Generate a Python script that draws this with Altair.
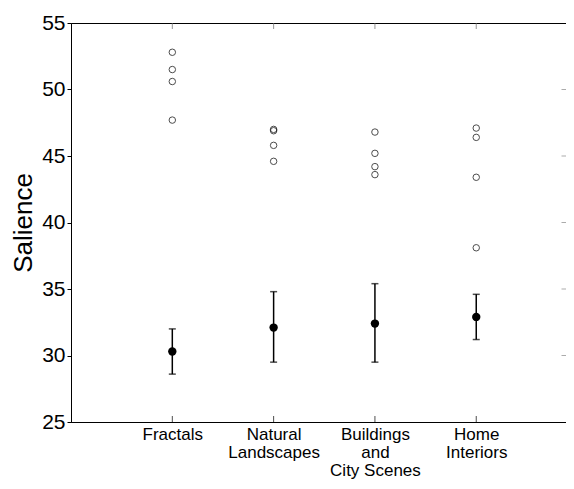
import altair as alt
import pandas as pd

categories = ["Fractals", "Natural Landscapes", "Buildings and City Scenes", "Home Interiors"]
label_lines = [["Fractals"], ["Natural", "Landscapes"], ["Buildings", "and", "City Scenes"], ["Home", "Interiors"]]
positions = [1, 2, 3, 4]

# individual (open circle) values per category
fractals_pts = [52.8, 51.5, 50.6, 47.7]
natural_pts = [47.0, 46.9, 45.8, 44.6]
buildings_pts = [46.8, 45.2, 44.2, 43.6]
home_pts = [47.1, 46.4, 43.4, 38.1]

# means with error bars
means = [30.3, 32.1, 32.4, 32.9]
err_low = [28.6, 29.5, 29.5, 31.2]
err_high = [32.0, 34.8, 35.4, 34.6]

y_ticks = [25, 30, 35, 40, 45, 50, 55]

pts_rows = []
for pos, vals in zip(positions, [fractals_pts, natural_pts, buildings_pts, home_pts]):
    for v in vals:
        pts_rows.append({"pos": pos, "value": v})
pts_df = pd.DataFrame(pts_rows)

mean_df = pd.DataFrame({"pos": positions, "cat": categories, "mean": means,
                        "lo": err_low, "hi": err_high})

ticks_df = pd.DataFrame({"pos": positions, "bottom": [25] * 4, "top": [55] * 4})
x_max = 4.886
yt_df = pd.DataFrame({"y": y_ticks[1:-1], "x": [x_max] * (len(y_ticks) - 2)})

label_expr = " : ".join(
    [f"datum.value == {p} ? {repr(l)}" for p, l in zip(positions, label_lines)]
) + " : ''"

xscale = alt.Scale(domain=[0, x_max], nice=False, zero=False)
yscale = alt.Scale(domain=[25, 55], nice=False, zero=False)

x_axis = alt.Axis(values=positions, labelExpr=label_expr, title=None, ticks=False,
                  labelFontSize=17, labelFont="Liberation Sans", labelColor="black",
                  labelPadding=4, labelLineHeight=18, labelOverlap=False, labelBound=False,
                  domainColor="black", grid=False)
y_axis = alt.Axis(values=y_ticks, title="Salience", titleFontSize=26, titleFont="Liberation Sans",
                  titleFontWeight="normal", titleColor="black", titlePadding=5,
                  labelFontSize=21, labelFont="Liberation Sans", labelColor="black",
                  tickSize=4, tickColor="black", labelPadding=2, domainColor="black", grid=False)

open_pts = alt.Chart(pts_df).mark_point(shape="circle", filled=False, color="black",
                                        size=42, strokeWidth=1).encode(
    x=alt.X("pos:Q", scale=xscale, axis=x_axis),
    y=alt.Y("value:Q", scale=yscale, axis=y_axis),
)

bars = alt.Chart(mean_df).mark_rule(color="black", strokeWidth=1.5).encode(
    x=alt.X("pos:Q", scale=xscale),
    y=alt.Y("lo:Q", scale=yscale),
    y2="hi:Q",
)
cap_lo = alt.Chart(mean_df).mark_tick(orient="horizontal", color="black", size=7,
                                       thickness=1.5).encode(
    x=alt.X("pos:Q", scale=xscale), y=alt.Y("lo:Q", scale=yscale))
cap_hi = alt.Chart(mean_df).mark_tick(orient="horizontal", color="black", size=7,
                                       thickness=1.5).encode(
    x=alt.X("pos:Q", scale=xscale), y=alt.Y("hi:Q", scale=yscale))
dots = alt.Chart(mean_df).mark_point(shape="circle", filled=True, color="black",
                                     size=70, opacity=1).encode(
    x=alt.X("pos:Q", scale=xscale), y=alt.Y("mean:Q", scale=yscale))

btick = alt.Chart(ticks_df).mark_tick(orient="vertical", color="black", size=6,
                                      thickness=1, yOffset=-3).encode(
    x=alt.X("pos:Q", scale=xscale), y=alt.Y("bottom:Q", scale=yscale))
ttick = alt.Chart(ticks_df).mark_tick(orient="vertical", color="#666666", size=6,
                                      thickness=1, yOffset=3).encode(
    x=alt.X("pos:Q", scale=xscale), y=alt.Y("top:Q", scale=yscale))
rtick = alt.Chart(yt_df).mark_tick(orient="horizontal", color="#888888", size=5,
                                   thickness=1, xOffset=-2).encode(
    x=alt.X("x:Q", scale=xscale), y=alt.Y("y:Q", scale=yscale))

chart = alt.layer(open_pts, bars, cap_lo, cap_hi, dots, btick, ttick, rtick).properties(
    width=495, height=399,
    autosize=alt.AutoSizeParams(type="none"),
    padding={"left": 63, "top": 15, "right": 0, "bottom": 59},
    background="white",
).configure_view(stroke="black", strokeWidth=1)

chart.save("out.html", embed_options={"renderer": "svg", "actions": False})
